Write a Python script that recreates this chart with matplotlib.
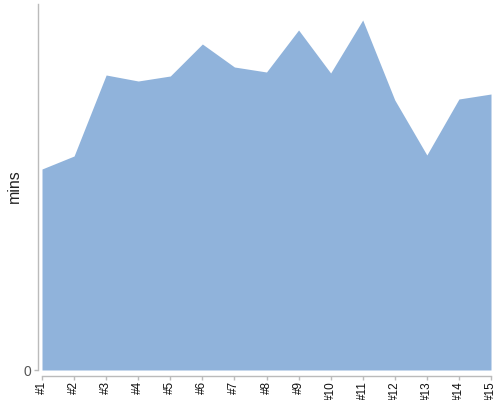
import matplotlib
matplotlib.use("Agg")
import matplotlib.pyplot as plt

plt.rcParams["font.family"] = ["Liberation Sans", "DejaVu Sans"]

labels = ["#1", "#2", "#3", "#4", "#5", "#6", "#7", "#8", "#9", "#10", "#11", "#12", "#13", "#14", "#15"]
values = [201, 214, 295, 289, 294, 326, 303, 298, 340, 297, 350, 270, 215, 271, 276]

fig = plt.figure(figsize=(5, 4), dpi=100)
ax = fig.add_axes([42/500, 1-370/400, (491-42)/500, (370-4)/400])
x = list(range(len(labels)))
ax.fill_between(x, values, 0, color="#90b3db", linewidth=0)
ax.set_xlim(0, len(labels)-1)
ax.set_ylim(0, 366)

for s in ["top", "right"]:
    ax.spines[s].set_visible(False)
ax.spines["left"].set_position(("outward", 3))
ax.spines["bottom"].set_position(("outward", 4))
for s in ["left", "bottom"]:
    ax.spines[s].set_color("#bbbbbb")
    ax.spines[s].set_linewidth(1)

ax.set_yticks([0])
ax.set_yticklabels(["0"], fontsize=10, color="#555555")
ax.set_xticks(x)
ax.set_xticklabels(labels, rotation=90, fontsize=8.5, color="#111111", va="top", ha="center")
ax.tick_params(axis="both", color="#bbbbbb", length=3, width=1)
ax.tick_params(axis="x", pad=1)
ax.tick_params(axis="y", pad=2)

fig.text(14/500, 1-186/400, "mins", rotation=90, fontsize=11.5, color="#222222", ha="center", va="center")

fig.savefig("out.png", dpi=100)
